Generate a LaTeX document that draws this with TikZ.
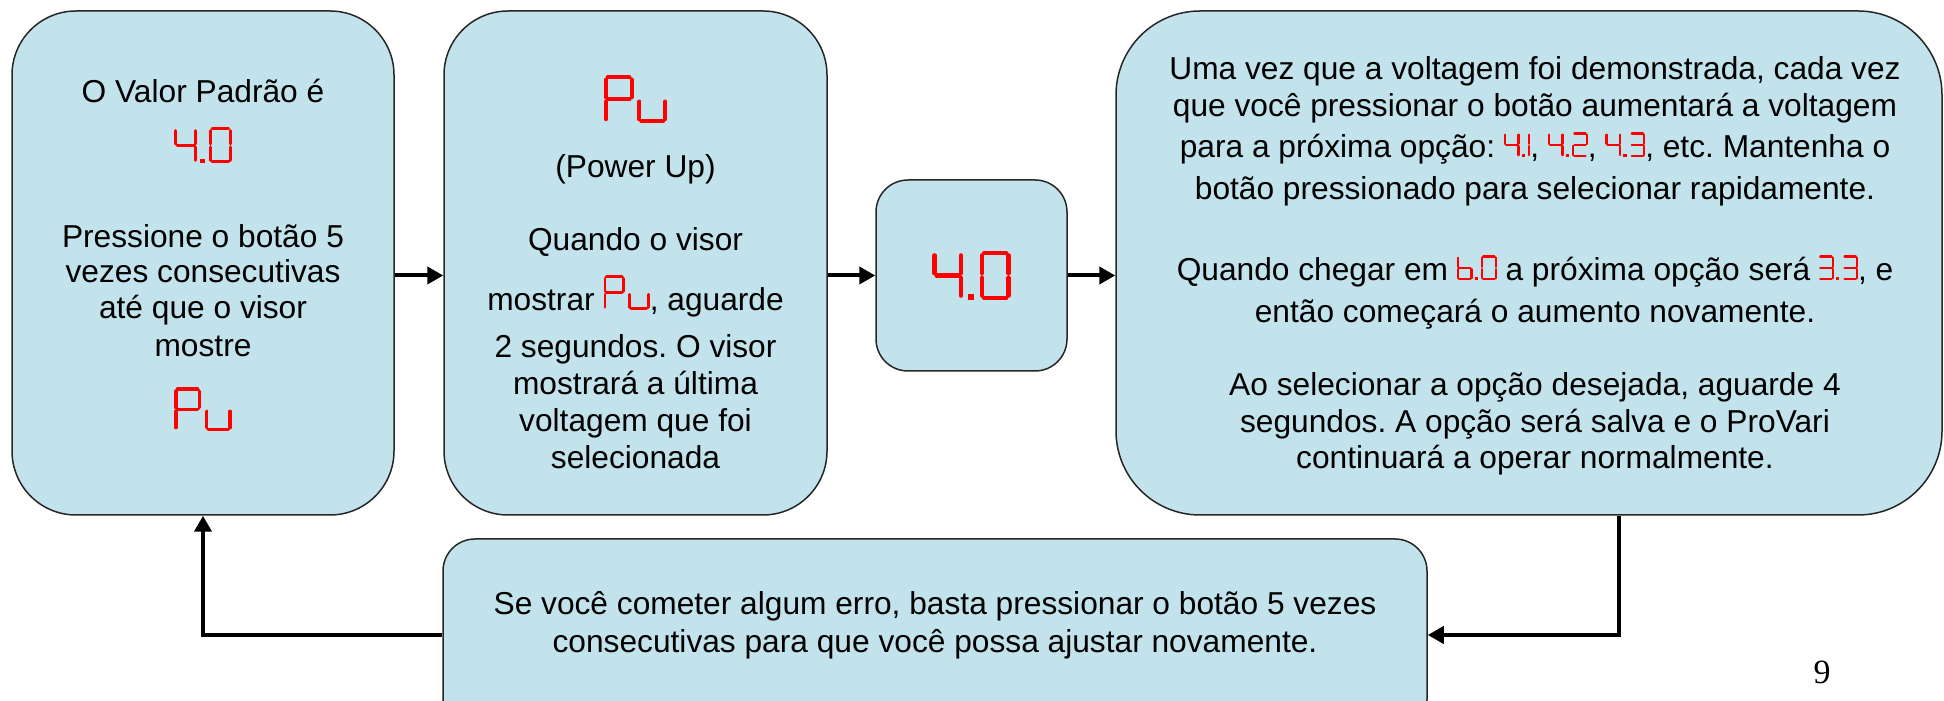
\documentclass[tikz,border=0pt]{standalone}
\usepackage{fontspec}
\setmainfont{Liberation Sans}
\newfontfamily\numfont{Liberation Serif}
\usetikzlibrary{arrows.meta,positioning}
\AtBeginDocument{\lineskiplimit=-100pt\frenchspacing}
\definecolor{caixaazul}{RGB}{194,227,236}
\tikzset{
  caixa/.style={draw=black!85, line width=0.75pt, fill=caixaazul, inner sep=0pt},
  texto/.style={align=center, inner sep=0pt, font=\fontsize{15.85pt}{18.5pt}\selectfont},
  seta/.style={-{Triangle[length=8pt,width=8.5pt]}, line width=2pt},
  lcdline/.style={red, line width={0.085*\lcdh}, line cap=round}
}
% segmentos do visor (altura 1)
\def\segA{(0.0825,0.9575)--(0.535,0.9575)}
\def\segB{(0.58,0.9125)--(0.58,0.545)}
\def\segC{(0.58,0.455)--(0.58,0.0875)}
\def\segD{(0.0825,0.0425)--(0.535,0.0425)}
\def\segE{(0.0425,0.455)--(0.0425,0.0875)}
\def\segF{(0.0425,0.9125)--(0.0425,0.545)}
\def\segG{(0.0825,0.5)--(0.535,0.5)}
\newcommand{\lcdglyph}[2]{\draw[lcdline,shift={(\lcdpos,0)}] #1; \pgfmathsetmacro\lcdpos{\lcdpos+#2}}
\newcommand{\lcdzero}{\lcdglyph{\segA\segB\segC\segD\segE\segF}{0.72}}
\newcommand{\lcdone}{\lcdglyph{(0.0425,0.9125)--(0.0425,0.545) (0.0425,0.455)--(0.0425,0.0875)}{0.18}}
\newcommand{\lcdtwo}{\lcdglyph{\segA\segB\segG\segE\segD}{0.72}}
\newcommand{\lcdthree}{\lcdglyph{\segA\segB\segG\segC\segD}{0.72}}
\newcommand{\lcdfour}{\lcdglyph{\segF\segG\segB\segC}{0.72}}
\newcommand{\lcdsix}{\lcdglyph{\segF\segE\segG\segC\segD}{0.72}}
\newcommand{\lcdP}{\lcdglyph{\segA\segB\segF\segG\segE}{0.7}}
\newcommand{\lcdu}{\lcdglyph{\segE\segD\segC}{0.72}}
\newcommand{\lcddot}{\fill[red,shift={(\lcdpos,0)}] (0,0) rectangle (0.13,0.13); \pgfmathsetmacro\lcdpos{\lcdpos+0.25}}
\newcommand{\lcd}[2]{\tikz[baseline=0pt,x=#1,y=#1,sharp corners]{\def\lcdh{#1}\def\lcdpos{0}#2}}

\begin{document}
\begin{tikzpicture}[x=0.5pt,y=0.5pt]
  \useasboundingbox (0,0) rectangle (1944,701);
  % caixas
  \node[caixa, minimum width=191pt, minimum height=252pt, rounded corners=32pt] (valor) at (203,438) {};
  \node[caixa, minimum width=191.5pt, minimum height=252pt, rounded corners=32pt] (powerup) at (635.5,438) {};
  \node[caixa, minimum width=95.5pt, minimum height=95.5pt, rounded corners=16pt] (mostra) at (971.5,425.5) {\lcd{24.5pt}{\lcdfour\lcddot\lcdzero}};
  \node[caixa, minimum width=413pt, minimum height=252pt, rounded corners=42pt] (opcoes) at (1529,438) {};
  \node[caixa, minimum width=492pt, minimum height=96pt, rounded corners=16pt] (erro) at (935,66) {};
  % textos
  \node[texto, anchor=north] (valortxt) at (203,631) {\rule{0pt}{16pt}O Valor Padrão é\\[12pt]
    \lcd{18pt}{\lcdfour\lcddot\lcdzero}\\[23.5pt]
    Pressione o botão 5\\[-1pt]
    vezes consecutivas\\[-0.5pt]
    até que o visor\\[0.5pt]
    mostre\\[19pt]
    \lcd{22pt}{\lcdP\lcdu}};
  \node[texto, anchor=north] (powertxt) at (635.5,626) {\lcd{24pt}{\lcdP\lcdu}\\[8.5pt]
    (Power Up)\\[18pt]
    Quando o visor\\[11.5pt]
    mostrar \lcd{17.5pt}{\lcdP\lcdu}, aguarde\\[5pt]
    2 segundos. O visor\\
    mostrará a última\\
    voltagem que foi\\
    selecionada};
  \node[texto, anchor=north] (opcoestxt) at (1535,654) {\rule{0pt}{16pt}Uma vez que a voltagem foi demonstrada, cada vez\\
    que você pressionar o botão aumentará a voltagem\\[2pt]
    para a próxima opção: \lcd{12.5pt}{\lcdfour\lcddot\lcdone}, \lcd{12.5pt}{\lcdfour\lcddot\lcdtwo}, \lcd{12.5pt}{\lcdfour\lcddot\lcdthree}, etc. Mantenha o\\[2.5pt]
    botão pressionado para selecionar rapidamente.\\[22pt]
    Quando chegar em \lcd{12.5pt}{\lcdsix\lcddot\lcdzero} a próxima opção será \lcd{12.5pt}{\lcdthree\lcddot\lcdthree}, e\\[2.5pt]
    então começará o aumento novamente.\\[18pt]
    Ao selecionar a opção desejada, aguarde 4\\
    segundos. A opção será salva e o ProVari\\[-0.5pt]
    continuará a operar normalmente.};
  \node[texto, anchor=north] (errotxt) at (935,119) {\rule{0pt}{16pt}Se você cometer algum erro, basta pressionar o botão 5 vezes\\[0.5pt]
    consecutivas para que você possa ajustar novamente.};
  \node[font=\numfont\fontsize{17pt}{20pt}\selectfont, anchor=base, inner sep=0pt] (pagina) at (1822,17) {9};
  % setas
  \draw[seta] (valor.east |- mostra.west) -- (powerup.west |- mostra.west);
  \draw[seta] (powerup.east |- mostra.west) -- (mostra.west);
  \draw[seta] (mostra.east) -- (opcoes.west |- mostra.east);
  \draw[seta] ([xshift=45pt]opcoes.south) |- (erro.east);
  \draw[seta] (erro.west) -| (valor.south);
\end{tikzpicture}
\end{document}
